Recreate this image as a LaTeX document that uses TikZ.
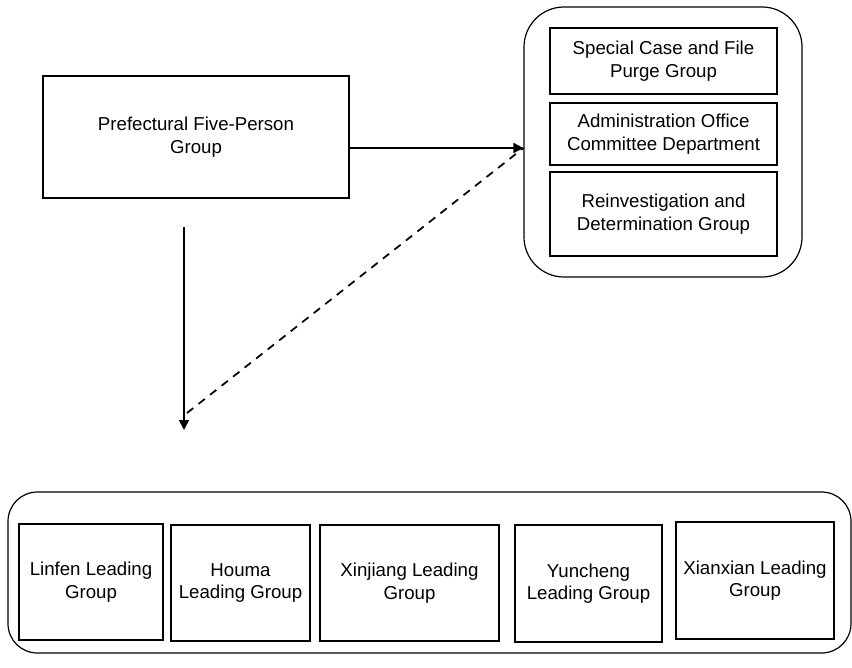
\documentclass[tikz,border=0pt]{standalone}
\usepackage{fontspec}
\setmainfont{Liberation Sans}
\usetikzlibrary{arrows.meta,positioning}
\tikzset{>={Triangle[length=7.5pt,width=7.5pt]}}
\tikzset{
  grp/.style={draw,line width=0.8pt,align=center,inner sep=2pt,font=\fontsize{14}{17}\selectfont},
  frame/.style={draw,line width=0.9pt,rounded corners=#1},
  link/.style={line width=1.3pt},
}
\begin{document}
\begin{tikzpicture}[x=0.75pt,y=-0.75pt]
\useasboundingbox (0,0) rectangle (852,667);
% outer frames
\node[frame=30pt,minimum width=208.5pt,minimum height=202.5pt] (side) at (663,142) {};
\node[frame=22pt,minimum width=632.25pt,minimum height=120.75pt] (base) at (429.5,572.5) {};
% top groups
\node[grp,minimum width=229.5pt,minimum height=91.5pt] (pref) at (196,137) {Prefectural Five-Person\\Group};
\node[grp,minimum width=170.25pt,minimum height=49.5pt] (purge) at (663.5,61) {Special Case and File\\Purge Group};
\node[grp,minimum width=170.25pt,minimum height=46.5pt] (admin) at (663.5,134) {Administration Office\\Committee Department};
\node[grp,minimum width=170.25pt,minimum height=63pt] (reinv) at (663.5,214) {Reinvestigation and\\Determination Group};
% local groups
\node[grp,minimum width=108pt,minimum height=87pt] (linfen) at (91,582) {Linfen Leading\\Group};
\node[grp,minimum width=104.25pt,minimum height=87pt] (houma) at (240.5,583) {Houma\\Leading Group};
\node[grp,minimum width=134.25pt,minimum height=87pt] (xinjiang) at (409.5,583) {Xinjiang Leading\\Group};
\node[grp,minimum width=110.25pt,minimum height=87.75pt] (yuncheng) at (588.5,583.5) {Yuncheng\\Leading Group};
\node[grp,minimum width=118.5pt,minimum height=87.75pt] (xianxian) at (755,580.5) {Xianxian Leading\\Group};
% connectors
\coordinate (tip) at ([yshift=-8.25pt]pref.east -| side.west);
\coordinate (down0) at (184,227);
\coordinate (down1) at (184,430);
\coordinate (dash0) at (187,413);
\draw[link,->] ([yshift=-8.25pt]pref.east) -- (tip);
\draw[link,->] (down0) -- (down1);
\draw[link,dash pattern=on 6pt off 5pt] (dash0) -- (tip);
\end{tikzpicture}
\end{document}
